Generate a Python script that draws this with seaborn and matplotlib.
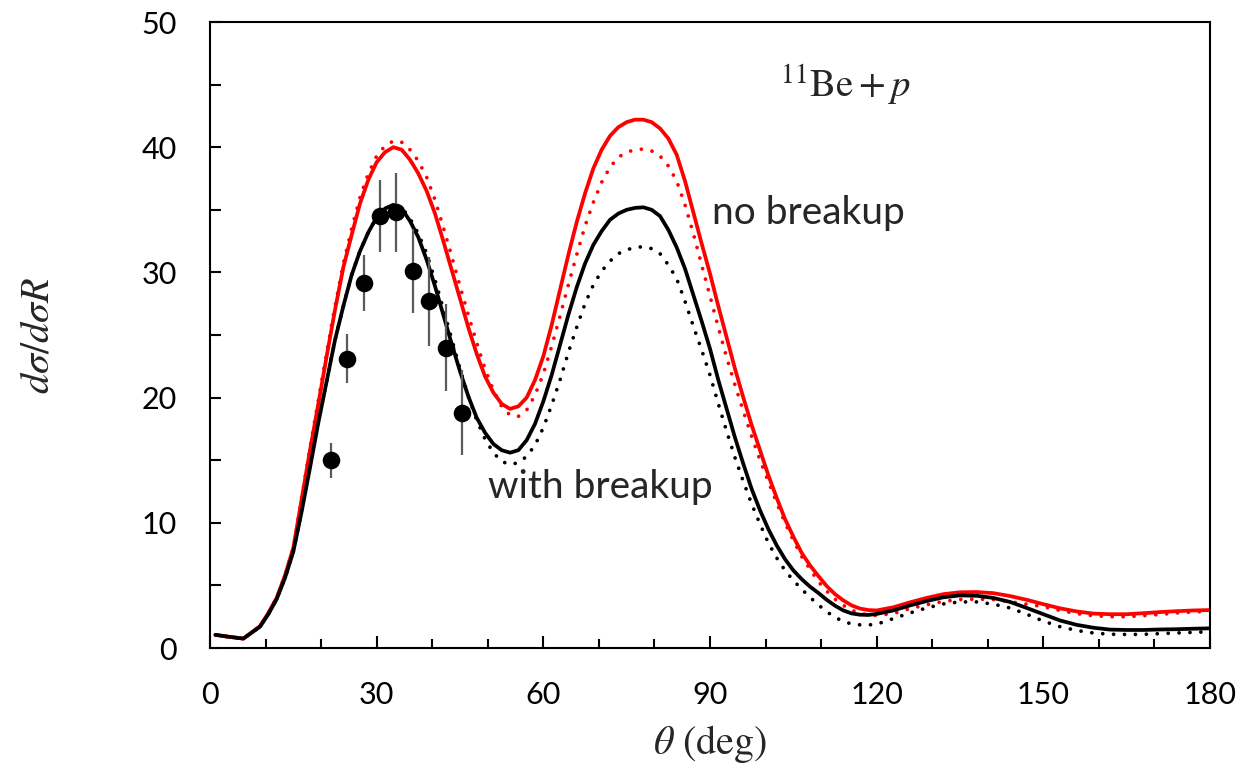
import matplotlib
matplotlib.use("Agg")
import matplotlib.pyplot as plt
import seaborn as sns
import numpy as np
import pandas as pd
from matplotlib.ticker import MultipleLocator

# ---- data ----
theta = [1, 3, 6, 9, 10.5, 12, 13.5, 15, 16.5, 18, 19.5, 21, 22.5, 24, 25.5, 27, 28.5,
         30, 31.5, 33, 34.5, 36, 37.5, 39, 40.5, 42, 43.5, 45, 46.5, 48, 49.5, 51, 52.5,
         54, 55.5, 57, 58.5, 60, 61.5, 63, 64.5, 66, 67.5, 69, 70.5, 72, 73.5, 75, 76.5,
         78, 79.5, 81, 82.5, 84, 85.5, 87, 88.5, 90, 91.5, 93, 94.5, 96, 97.5, 99,
         100.5, 102, 103.5, 105, 106.5, 108, 109.5, 111, 112.5, 114, 115.5, 117, 118.5,
         120, 123, 126, 129, 132, 135, 138, 141, 144, 147, 150, 153, 156, 159, 162,
         165, 168, 171, 174, 177, 180]

no_breakup_solid = [1.05, 0.92, 0.75, 1.75, 2.8, 4.0, 5.8, 8.0, 11.9, 15.8, 19.5, 23.3,
                    27.0, 30.4, 33.0, 35.5, 37.4, 38.8, 39.6, 40.0, 39.8, 39.0, 37.9, 36.5,
                    34.7, 32.5, 30.2, 27.9, 25.6, 23.5, 21.7, 20.4, 19.5, 19.1, 19.3, 20.0,
                    21.4, 23.3, 25.8, 28.6, 31.4, 34.0, 36.3, 38.3, 39.8, 40.9, 41.6, 42.0,
                    42.2, 42.2, 42.0, 41.5, 40.7, 39.4, 37.3, 34.8, 32.3, 29.9, 27.3, 24.8,
                    22.3, 20.0, 17.8, 15.8,
                    13.8, 12.0, 10.3, 8.9, 7.6, 6.6, 5.75, 4.95, 4.3, 3.8, 3.4, 3.15, 3.03,
                    3.0, 3.25, 3.65, 4.0, 4.3, 4.45, 4.47, 4.38, 4.15, 3.85, 3.5, 3.17,
                    2.92, 2.75, 2.7, 2.7, 2.78, 2.87, 2.94, 3.0, 3.03]

no_breakup_dotted = [1.05, 0.92, 0.75, 1.75, 2.8, 4.0, 5.8, 8.0, 12.0, 16.0, 19.8, 23.6,
                     27.3, 30.7, 33.5, 36.0, 37.9, 39.3, 40.1, 40.5, 40.4, 39.8, 38.9, 37.6,
                     35.8, 33.6, 31.3, 28.9, 26.6, 24.4, 22.3, 20.6, 19.3, 18.6, 18.5, 19.0,
                     20.2, 21.9, 24.1, 26.5, 29.0, 31.4, 33.7, 35.6, 37.2, 38.4, 39.2, 39.6,
                     39.8, 39.85, 39.7, 39.3, 38.5, 37.3, 35.4, 33.1, 30.6, 28.1, 25.6, 23.2,
                     21.0, 18.9, 16.9, 15.0,
                     13.3, 11.6, 10.0, 8.6, 7.3, 6.3, 5.3, 4.55, 3.9, 3.4, 3.02, 2.78, 2.64,
                     2.6, 2.75, 3.15, 3.45, 3.72, 3.87, 3.9, 3.87, 3.7, 3.5, 3.3, 3.0, 2.75,
                     2.58, 2.5, 2.5, 2.58, 2.68, 2.8, 2.88, 2.93]

with_breakup_solid = [1.05, 0.92, 0.75, 1.7, 2.7, 3.9, 5.6, 7.7, 10.9, 14.4, 18.0, 21.3,
                      24.6, 27.3, 29.8, 31.7, 33.2, 34.4, 35.1, 35.4, 35.1, 34.1, 32.8, 31.0,
                      28.9, 26.6, 24.3, 22.1, 20.1, 18.4, 17.2, 16.3, 15.8, 15.6, 15.8, 16.6,
                      17.9, 19.7, 21.8, 24.2, 26.6, 28.8, 30.7, 32.2, 33.3, 34.2, 34.7, 35.0,
                      35.15, 35.2, 35.0, 34.5, 33.4, 32.0, 30.3, 28.2, 26.1, 23.9, 21.4, 19.1,
                      16.8, 14.7, 12.7, 11.0,
                      9.5, 8.2, 7.1, 6.2, 5.5, 4.9, 4.4, 3.85, 3.38, 3.0, 2.76, 2.66, 2.64,
                      2.72, 3.0, 3.4, 3.75, 4.05, 4.2, 4.17, 4.0, 3.68, 3.2, 2.7, 2.2, 1.85,
                      1.62, 1.47, 1.44, 1.44, 1.48, 1.5, 1.54, 1.57]

with_breakup_dotted = [1.05, 0.92, 0.75, 1.7, 2.7, 3.9, 5.6, 7.7, 10.9, 14.4, 18.0, 21.3,
                       24.6, 27.3, 29.8, 31.7, 33.2, 34.4, 35.1, 35.4, 35.2, 34.3, 33.1, 31.5,
                       29.4, 27.1, 24.7, 22.3, 20.1, 18.2, 16.7, 15.6, 14.9, 14.65, 14.8,
                       15.3, 16.2, 17.6, 19.4, 21.4, 23.6, 25.6, 27.5, 29.0, 30.1, 30.9, 31.5,
                       31.8, 32.0, 32.05, 31.9, 31.5, 30.6, 29.5, 27.7, 25.7, 23.8, 21.8,
                       19.5, 17.3, 15.2, 13.3, 11.5, 9.9,
                       8.4, 7.2, 6.2, 5.4, 4.7, 4.05, 3.45, 2.9, 2.45, 2.12, 1.92, 1.85, 1.84,
                       1.9, 2.35, 2.8, 3.2, 3.52, 3.68, 3.68, 3.5, 3.2, 2.7, 2.15, 1.7, 1.4,
                       1.2, 1.1, 1.08, 1.09, 1.15, 1.2, 1.25, 1.3]

exp_theta = [21.8, 24.7, 27.7, 30.6, 33.5, 36.5, 39.4, 42.4, 45.4]
exp_value = [15.0, 23.1, 29.15, 34.5, 34.8, 30.1, 27.7, 24.0, 18.8]
exp_error = [1.4, 1.95, 2.25, 2.85, 3.15, 3.35, 3.55, 3.45, 3.4]

x_ticks = [0, 30, 60, 90, 120, 150, 180]
y_ticks = [0, 10, 20, 30, 40, 50]

# ---- styling ----
sns.set_theme(style="ticks")
plt.rcParams["font.family"] = ["Lato", "DejaVu Sans"]
plt.rcParams["mathtext.fontset"] = "stix"

fig = plt.figure(figsize=(12.4, 7.78), dpi=100)
ax = fig.add_axes([210 / 1240, 1 - 648 / 778, 1000 / 1240, 626 / 778])

dot = (0, (0.01, 2.9))
sns.lineplot(x=theta, y=no_breakup_dotted, ax=ax, color="#ff0000", lw=2.7,
             linestyle=dot, dash_capstyle="round")
sns.lineplot(x=theta, y=with_breakup_dotted, ax=ax, color="black", lw=2.7,
             linestyle=dot, dash_capstyle="round")
sns.lineplot(x=theta, y=no_breakup_solid, ax=ax, color="#ff0000", lw=2.7)
sns.lineplot(x=theta, y=with_breakup_solid, ax=ax, color="black", lw=2.7)

ax.errorbar(exp_theta, exp_value, yerr=exp_error, fmt="none", ecolor="#5a5a5a",
            elinewidth=1.6, capsize=0, zorder=4)
sns.scatterplot(x=exp_theta, y=exp_value, ax=ax, color="black", s=160,
                edgecolor="black", linewidth=0, zorder=5)

ax.set_xlim(0, 180)
ax.set_ylim(0, 50)
ax.set_xticks(x_ticks)
ax.set_yticks(y_ticks)
ax.xaxis.set_minor_locator(MultipleLocator(10))
ax.yaxis.set_minor_locator(MultipleLocator(5))
ax.tick_params(axis="both", which="both", direction="in", width=1.5, colors="black",
               top=False, right=False)
ax.tick_params(axis="x", which="major", length=9, pad=24, labelsize=22)
ax.tick_params(axis="x", which="minor", length=6.5)
ax.tick_params(axis="y", which="major", length=8, pad=24, labelsize=22)
ax.tick_params(axis="y", which="minor", length=8)
for s in ax.spines.values():
    s.set_visible(True)
    s.set_linewidth(1.5)
    s.set_color("black")

ax.set_xlabel(r"$\theta\ \mathrm{(deg)}$", fontsize=29, labelpad=10)
ax.set_ylabel(r"$d\sigma/d\sigma R$", fontsize=29, labelpad=62)

ax.text(0.57, 0.899, r"$^{11}\mathrm{Be}+p$", transform=ax.transAxes,
        fontsize=28, ha="left", va="center")
ax.text(0.502, 0.695, "no breakup", transform=ax.transAxes, fontsize=28,
        ha="left", va="center")
ax.text(0.278, 0.257, "with breakup", transform=ax.transAxes, fontsize=28,
        ha="left", va="center")

fig.savefig("out.png", dpi=100)
